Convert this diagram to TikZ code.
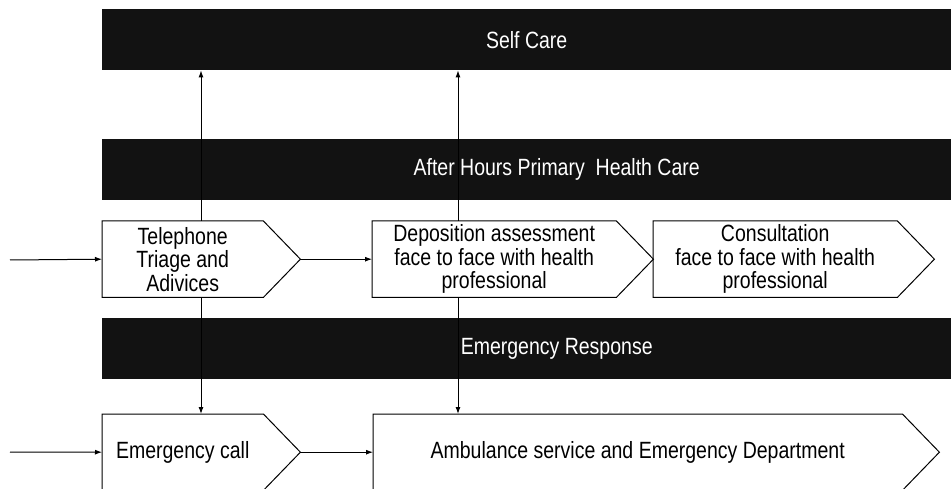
\documentclass[tikz,border=0pt]{standalone}
\usepackage{fontspec}
\setmainfont{Liberation Sans}[FakeStretch=0.83]
\usetikzlibrary{arrows.meta}

\begin{document}
\begin{tikzpicture}[x=1pt,y=-1pt,
	bar/.style={fill=black!93,minimum width=849pt,minimum height=61pt,anchor=north west,inner sep=0pt},
	bartext/.style={text=white},
	stage/.style={minimum height=76pt,anchor=north west,inner sep=0pt,align=center},
	flow/.style={-{Latex[length=7pt,width=5pt]},line width=1pt},
	font=\fontsize{23.5}{23.5}\selectfont]
	\useasboundingbox (0,0) rectangle (951,489);
	% bands
	\node [bar] (self) at (102,9) {};
	\node [bartext] at (self.center) {Self Care};
	\node [bar] (ahb) at (102,139) {};
	\node [bartext] at ([xshift=30pt]ahb.center) {After Hours Primary\ \ Health Care};
	\node [bar] (emr) at (102,318) {};
	\node [bartext] at ([xshift=30pt]emr.center) {Emergency Response};
	% stages
	\node [stage,minimum width=161pt] (tel) at (102,221) {Telephone\\Triage and\\Adivices};
	\node [stage,minimum width=244pt] (dep) at (372,221) {Deposition assessment\\face to face with health\\professional};
	\node [stage,minimum width=244pt] (con) at (653,221) {Consultation\\face to face with health\\professional};
	\node [stage,minimum width=161pt] (emc) at (102,414) {Emergency call};
	\node [stage,minimum width=529pt] (amb) at (373,414) {Ambulance service and Emergency Department};
	\foreach \n in {tel,dep,con,emc,amb}
		\draw [line width=1pt] (\n.north west) -- (\n.north east) -- ([xshift=37pt]\n.east) coordinate (\n-tip)
			-- (\n.south east) -- (\n.south west) -- cycle;
	% connectors
	\coordinate (in1) at (10,260);
	\coordinate (in2) at (10,452);
	\coordinate (colA) at (201,0);
	\coordinate (colB) at (458,0);
	\draw [flow] (in1) -- (tel.west);
	\draw [flow] (in2) -- (emc.west);
	\draw [flow] (tel-tip) -- (dep.west);
	\draw [flow] (emc-tip) -- (amb.west);
	\draw [flow] (tel.north -| colA) -- (self.south -| colA);
	\draw [flow] (tel.south -| colA) -- (emc.north -| colA);
	\draw [flow] (dep.north -| colB) -- (self.south -| colB);
	\draw [flow] (dep.south -| colB) -- (amb.north -| colB);
\end{tikzpicture}
\end{document}
